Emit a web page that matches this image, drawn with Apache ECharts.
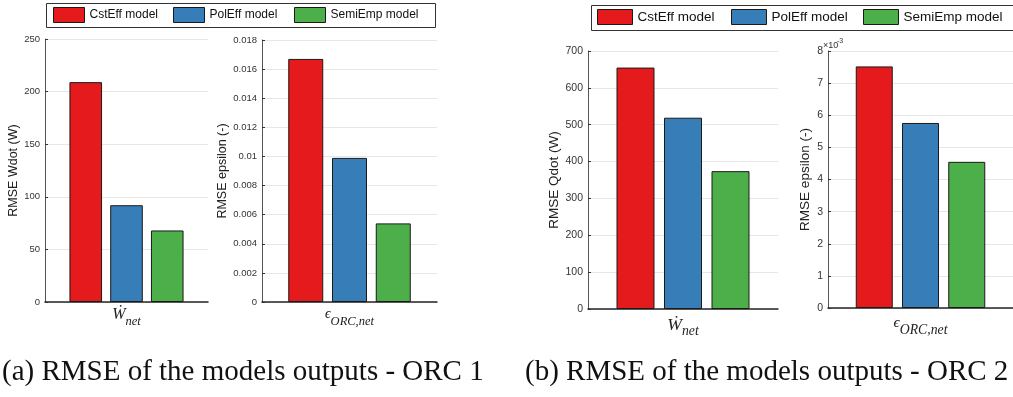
<!DOCTYPE html>
<html>
<head>
<meta charset="utf-8">
<script src="https://cdn.jsdelivr.net/npm/echarts@6/dist/echarts.min.js"></script>
<style>
  html, body { margin: 0; padding: 0; background: #fff; }
  #main { width: 1013px; height: 397px; }
</style>
</head>
<body>
<div id="main"></div>
<script>
// model names and colours
const models = ['CstEff model', 'PolEff model', 'SemiEmp model'];
const colors = ['#e41a1c', '#377eb8', '#4daf4a'];

// RMSE values
const orc1Wnet = [209, 92, 68];          // W
const orc1Eps = [0.0167, 0.0099, 0.0054]; // -
const orc2Qdot = [655, 519, 374];        // W
const orc2Eps = [0.00752, 0.00576, 0.00455];

// x categories (one per panel) and axis names
const xCats = ['Wnet', 'eps', 'Wnet', 'eps'];
const yNames = ['RMSE Wdot (W)', 'RMSE epsilon (-)', 'RMSE Qdot (W)', 'RMSE epsilon (-)'];
const yMin = [0, 0, 0, 0];
const yMax = [250, 0.018, 700, 0.008];
const yStep = [50, 0.002, 100, 0.001];
const captions = ['(a) RMSE of the models outputs - ORC 1', '(b) RMSE of the models outputs - ORC 2'];

const panels = [orc1Wnet, orc1Eps, orc2Qdot, orc2Eps];

const grids = [
  { left: 45, top: 39, width: 163, height: 263 },
  { left: 262, top: 40, width: 175, height: 262 },
  { left: 588, top: 51, width: 190, height: 258 },
  { left: 828, top: 51, width: 195, height: 257 }
];
const big = [false, false, true, true];
const nameGaps = [24, 33, 26, 16];

const sans = 'Liberation Sans, Arial, sans-serif';
const serif = 'Liberation Serif, DejaVu Serif, serif';

function xLabel(v) {
  if (v === 'Wnet') return '{w|Ẇ}{s|net}';
  return '{e|ϵ}{s|ORC,net}';
}

const xAxes = grids.map((g, i) => {
  const s = big[i] ? 1.1 : 1;
  return {
    type: 'category', gridIndex: i, data: [xCats[i]],
    axisTick: { show: false },
    axisLine: { lineStyle: { color: '#262626', width: 1.5 } },
    axisLabel: {
      margin: big[i] ? 7 : 5,
      formatter: xLabel,
      rich: {
        w: { fontFamily: serif, fontStyle: 'italic', fontSize: 16 * s, lineHeight: 18 * s, verticalAlign: 'top', color: '#222' },
        e: { fontFamily: serif, fontStyle: 'italic', fontSize: 14 * s, lineHeight: 16 * s, verticalAlign: 'top', color: '#222' },
        s: { fontFamily: serif, fontStyle: 'italic', fontSize: 12.5 * s, lineHeight: 13 * s, padding: [8 * s, 0, 0, 0], verticalAlign: 'top', color: '#222' }
      }
    }
  };
});

const yAxes = grids.map((g, i) => ({
  type: 'value', gridIndex: i,
  min: yMin[i], max: yMax[i], interval: yStep[i],
  name: yNames[i], nameLocation: 'middle', nameGap: nameGaps[i],
  nameTextStyle: { fontFamily: sans, fontSize: big[i] ? 13.5 : 12.5, color: '#222' },
  axisLine: { show: true, lineStyle: { color: '#555', width: 1 } },
  axisTick: { show: true, inside: true, length: 3, lineStyle: { color: '#333' } },
  splitLine: { lineStyle: { color: '#e6e6e6', width: 1 } },
  axisLabel: {
    fontFamily: sans, fontSize: big[i] ? 10.5 : 9.5, color: '#333', margin: 5,
    formatter: i === 3 ? (v => String(Math.round(v * 1000))) : (v => String(+v.toFixed(3)))
  }
}));

const series = [];
panels.forEach((vals, p) => {
  vals.forEach((v, m) => {
    series.push({
      type: 'bar', name: models[m], xAxisIndex: p, yAxisIndex: p,
      data: [v], barWidth: '20%', barGap: '25%',
      itemStyle: { color: colors[m], borderColor: '#1a1a1a', borderWidth: 1 }
    });
  });
});

// legend item positions (two legend rows)
const legendSpots = [
  { xs: [53, 173, 294], top: 7, w: 31, h: 15, fs: 12 },
  { xs: [597, 731, 863], top: 9, w: 35, h: 15, fs: 13.5 }
];
const legends = [];
legendSpots.forEach(L => {
  L.xs.forEach((x, m) => {
    legends.push({
      left: x, top: L.top, padding: 0, itemWidth: L.w, itemHeight: L.h,
      selectedMode: false, icon: 'rect',
      itemStyle: { borderColor: '#1a1a1a', borderWidth: 1 },
      textStyle: { fontFamily: sans, fontSize: L.fs, color: '#111' },
      data: [models[m]]
    });
  });
});

const chart = echarts.init(document.getElementById('main'), null, { renderer: 'canvas' });
chart.setOption({
  animation: false,
  backgroundColor: '#fff',
  grid: grids,
  xAxis: xAxes,
  yAxis: yAxes,
  legend: legends,
  series: series,
  graphic: [
    { type: 'rect', shape: { x: 46.5, y: 3.5, width: 389, height: 24 }, style: { fill: 'none', stroke: '#333', lineWidth: 1 }, z: 1 },
    { type: 'rect', shape: { x: 591.5, y: 5.5, width: 430, height: 25 }, style: { fill: 'none', stroke: '#333', lineWidth: 1 }, z: 1 },
    { type: 'text', x: 823, y: 46, style: { text: '×10', fontFamily: sans, fontSize: 9, fill: '#333', verticalAlign: 'middle' } },
    { type: 'text', x: 837, y: 41, style: { text: '-3', fontFamily: sans, fontSize: 7, fill: '#333', verticalAlign: 'middle' } },
    { type: 'text', x: 2, y: 372, style: { text: captions[0], fontFamily: serif, fontSize: 29, fill: '#111', verticalAlign: 'middle' } },
    { type: 'text', x: 525, y: 372, style: { text: captions[1], fontFamily: serif, fontSize: 29, fill: '#111', verticalAlign: 'middle' } }
  ]
});
</script>
</body>
</html>
